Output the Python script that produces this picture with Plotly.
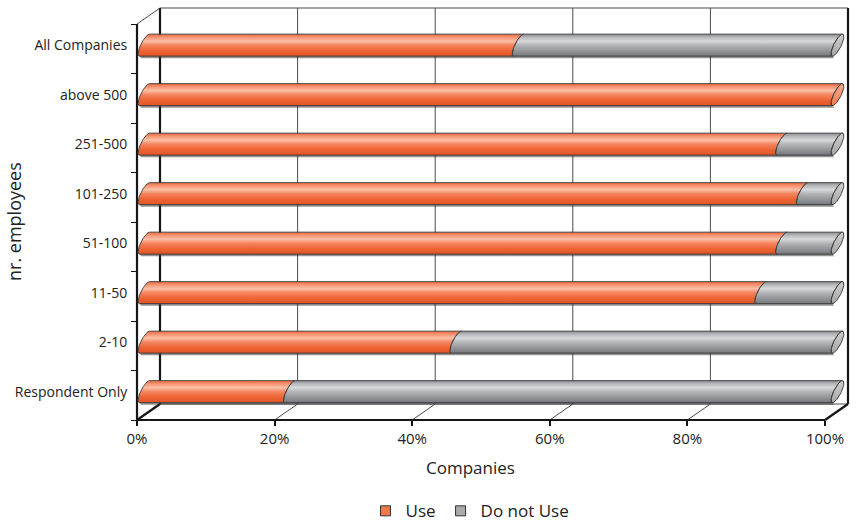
import numpy as np
import plotly.graph_objects as go

# ---- data -------------------------------------------------------------
categories = ["Respondent Only", "2-10", "11-50", "51-100",
              "101-250", "251-500", "above 500", "All Companies"]
use_pct = [21, 45, 89, 92, 95, 92, 100, 54]
not_use_pct = [79, 55, 11, 8, 5, 8, 0, 46]
series_names = ["Use", "Do not Use"]
x_tick_vals = [0, 20, 40, 60, 80, 100]
x_tick_text = ["0%", "20%", "40%", "60%", "80%", "100%"]

# ---- page geometry (pixels) -------------------------------------------
W, H = 859, 523
FX0, FX1 = 137, 825          # front plane: 0% and 100%
FY_BOT, FY_TOP = 420, 24     # front plane: floor and top of category axis
SX = (FX1 - FX0) / 100.0
SY = (FY_BOT - FY_TOP) / len(categories)
x_range = [-FX0 / SX, (W - FX0) / SX]
y_range = [-0.5 - (H - FY_BOT) / SY, -0.5 + FY_BOT / SY]

# depth of the box (back wall offset)
DX, DY = 23 / SX, 16 / SY
# cylinders sit a little inside the box
BAR_X0, BAR_XS = 7.5 / SX, 693.0 / 688.0
BAR_DY = 3.6 / SY
RY = 11 / SY          # cylinder radius (vertical)
RX = 4 / SX           # end-ellipse half width
SH = 5 / SX           # end-ellipse slant

FONT = "Open Sans"
TXT = "#222222"

orange_scale = [[0.00, "#de5527"], [0.25, "#ee6434"], [0.50, "#f58560"],
                 [0.68, "#fbc0a7"], [0.85, "#f79573"], [1.00, "#e96a43"]]
gray_scale = [[0.00, "#77787c"], [0.25, "#96979a"], [0.50, "#b4b5b8"],
              [0.68, "#d8d9db"], [0.85, "#b8b9bb"], [1.00, "#8b8c8f"]]
orange_cap = [[0, "#ef7a52"], [1, "#f9ab8c"]]
gray_cap = [[0, "#a4a5a8"], [1, "#cfd0d2"]]
scales = [orange_scale, gray_scale]
caps = [orange_cap, gray_cap]


def bx(v):
    return BAR_X0 + v * BAR_XS


def ell(cx, cy, t):
    return cx + RX * np.cos(t) + SH * np.sin(t), cy + RY * np.sin(t)


def segment(v0, v1, cy):
    ta = np.linspace(np.pi / 2, 3 * np.pi / 2, 40)
    tb = np.linspace(3 * np.pi / 2, np.pi / 2, 40)
    x0, y0 = ell(bx(v0), cy, ta)
    x1, y1 = ell(bx(v1), cy, tb)
    xs = np.concatenate([x0, x1, x0[:1]])
    ys = np.concatenate([y0, y1, y0[:1]])
    return xs, ys


fig = go.Figure()

# ---- box: back wall, floor and front axes ----------------------------
thin_x, thin_y, thick_x, thick_y = [], [], [], []


def add(lst_x, lst_y, pts):
    for px, py in pts:
        lst_x.append(px)
        lst_y.append(py)
    lst_x.append(None)
    lst_y.append(None)


yb, yt = -0.5, len(categories) - 0.5
for v in x_tick_vals:
    seg = [(v + DX, yb + DY), (v + DX, yt + DY)]
    diag = [(v, yb), (v + DX, yb + DY)]
    if v in (0, 100):
        add(thick_x, thick_y, seg)
        add(thick_x, thick_y, diag)
    else:
        add(thin_x, thin_y, seg)
        add(thin_x, thin_y, diag)
add(thin_x, thin_y, [(DX, yt + DY), (100 + DX, yt + DY)])
add(thin_x, thin_y, [(DX, yb + DY), (100 + DX, yb + DY)])
add(thin_x, thin_y, [(0, yt), (DX, yt + DY)])
add(thick_x, thick_y, [(0, yt), (0, yb), (100, yb)])

fig.add_trace(go.Scatter(x=thin_x, y=thin_y, mode="lines",
                         line=dict(color="#4a4a4a", width=1),
                         hoverinfo="skip", showlegend=False))
fig.add_trace(go.Scatter(x=thick_x, y=thick_y, mode="lines",
                         line=dict(color="#161616", width=2.2),
                         hoverinfo="skip", showlegend=False))

# ---- cylinders -------------------------------------------------------
sh_dx, sh_dy = 2.0 / SX, 2.2 / SY
for i, cat in enumerate(categories):
    cy = i + BAR_DY
    vals = [use_pct[i], not_use_pct[i]]
    # soft drop shadow of the whole cylinder
    sx, sy = segment(0, 100, cy)
    fig.add_trace(go.Scatter(x=sx + sh_dx, y=sy - sh_dy, mode="lines",
                             fill="toself", fillcolor="rgba(60,60,60,0.55)",
                             line=dict(width=0), hoverinfo="skip",
                             showlegend=False))
    start = 0
    last = 0
    for k, val in enumerate(vals):
        if val <= 0:
            continue
        xs, ys = segment(start, start + val, cy)
        fig.add_trace(go.Scatter(
            x=xs, y=ys, mode="lines", fill="toself",
            fillgradient=dict(type="vertical", colorscale=scales[k]),
            line=dict(color="#383838", width=0.9),
            name=series_names[k], hoverinfo="name", showlegend=False))
        start += val
        last = k
    # visible end face
    t = np.linspace(0, 2 * np.pi, 80)
    ex, ey = ell(bx(start), cy, t)
    fig.add_trace(go.Scatter(
        x=ex, y=ey, mode="lines", fill="toself",
        fillgradient=dict(type="vertical", colorscale=caps[last]),
        line=dict(color="#303030", width=0.9),
        hoverinfo="skip", showlegend=False))

# ---- legend entries ---------------------------------------------------
for k, name in enumerate(series_names):
    fig.add_trace(go.Scatter(
        x=[None], y=[None], mode="markers", name=name,
        marker=dict(symbol="square", size=10,
                    color=["#f2794e", "#a9aaad"][k],
                    line=dict(color="#333333", width=1))))

fig.update_layout(
    width=W, height=H,
    margin=dict(l=0, r=0, t=0, b=0, autoexpand=False),
    paper_bgcolor="white", plot_bgcolor="white",
    font=dict(family=FONT, color=TXT),
    showlegend=True,
    legend=dict(orientation="h", x=470 / W, xanchor="center",
                y=-0.012, yanchor="bottom", valign="middle",
                font=dict(size=17, family=FONT, color=TXT),
                itemwidth=30, bgcolor="rgba(0,0,0,0)"),
    xaxis=dict(range=x_range, domain=[0, 1], anchor="free",
               position=(H - FY_BOT) / H, automargin=False,
               tickmode="array", tickvals=x_tick_vals, ticktext=x_tick_text,
               ticks="outside", ticklen=5, tickwidth=1.5, tickcolor="#111",
               tickfont=dict(size=15, family=FONT, color=TXT),
               showgrid=False, zeroline=False, showline=False,
               fixedrange=True),
    yaxis=dict(range=y_range, domain=[0, 1], anchor="free",
               position=FX0 / W, automargin=False,
               tickmode="array",
               tickvals=[i + BAR_DY for i in range(len(categories))],
               ticktext=categories,
               ticks="outside", ticklen=7, tickcolor="rgba(0,0,0,0)",
               tickfont=dict(size=14, family=FONT, color=TXT),
               minor=dict(tickmode="array",
                          tickvals=[i - 0.5 for i in range(len(categories) + 1)],
                          ticks="outside", ticklen=6, tickwidth=1.2,
                          tickcolor="#111"),
               showgrid=False, zeroline=False, showline=False,
               fixedrange=True),
    annotations=[
        dict(text="Companies", xref="paper", yref="paper",
             x=470 / W, y=(H - 467) / H, xanchor="center", yanchor="middle",
             showarrow=False,
             font=dict(size=17, family=FONT, color=TXT)),
        dict(text="nr. employees", xref="paper", yref="paper",
             x=14 / W, y=(H - 222) / H, xanchor="center", yanchor="middle",
             showarrow=False, textangle=-90,
             font=dict(size=18, family=FONT, color=TXT)),
    ],
)

fig.write_html("out.html")
